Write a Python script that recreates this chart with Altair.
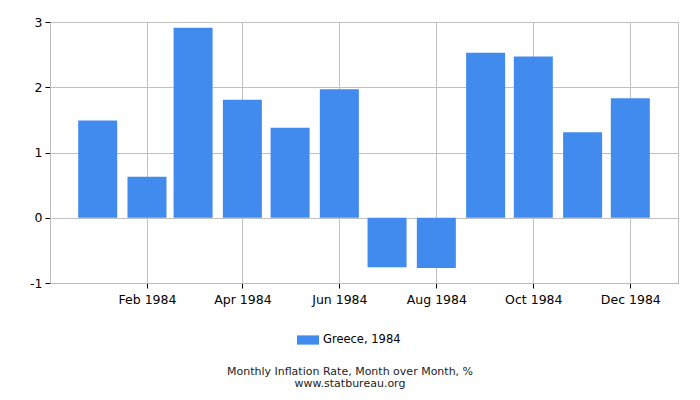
import altair as alt
import pandas as pd

months = ["1984-01-01", "1984-02-01", "1984-03-01", "1984-04-01", "1984-05-01", "1984-06-01",
          "1984-07-01", "1984-08-01", "1984-09-01", "1984-10-01", "1984-11-01", "1984-12-01"]
values = [1.49, 0.63, 2.91, 1.81, 1.38, 1.97, -0.76, -0.77, 2.53, 2.47, 1.31, 1.83]
series = "Greece, 1984"
tick_dates = ["1984-02-01", "1984-04-01", "1984-06-01", "1984-08-01", "1984-10-01", "1984-12-01"]
y_ticks = [-1, 0, 1, 2, 3]

df = pd.DataFrame({"date": months, "value": values, "series": [series] * len(months)})

FONT = "DejaVu Sans"

chart = alt.Chart(df).mark_bar(size=39).encode(
    x=alt.X("date:T",
            scale=alt.Scale(type="utc", padding=0,
                            domain=[{"year": 1983, "month": 12, "date": 2, "utc": True},
                                    {"year": 1984, "month": 12, "date": 31, "utc": True}]),
            axis=alt.Axis(title=None,
                          values=[{"year": int(d[:4]), "month": int(d[5:7]), "date": 1, "utc": True} for d in tick_dates],
                          labelExpr="utcFormat(datum.value, '%b %Y')", labelPadding=5)),
    y=alt.Y("value:Q", scale=alt.Scale(domain=[-1, 3], nice=False),
            axis=alt.Axis(title=None, values=y_ticks, labelExpr="'' + datum.value", labelPadding=3)),
    color=alt.Color("series:N", scale=alt.Scale(range=["#428bee"]),
                    legend=alt.Legend(title=None, orient="none", legendX=247, legendY=307,
                                      symbolType="M-1,-0.42H1V0.42H-1Z", symbolSize=484,
                                      symbolStrokeWidth=0, labelFontSize=11.5, labelFont=FONT,
                                      labelColor="#000000", labelOffset=4)),
).properties(
    width=628,
    height=261,
    title=alt.TitleParams(["Monthly Inflation Rate, Month over Month, %", "www.statbureau.org"],
                          orient="bottom", anchor="middle", frame="group", dx=-14,
                          fontSize=11, font=FONT,
                          fontWeight="normal", color="#222222", lineHeight=12, offset=20),
    autosize=alt.AutoSizeParams(type="none"),
    padding={"left": 42, "top": 14, "right": 14, "bottom": 110},
).configure_view(
    stroke="#bbbbbb"
).configure_axis(
    labelFont=FONT, labelFontSize=12.5, labelColor="#000000",
    gridColor="#c0c0c0", gridOpacity=1, domainColor="#bbbbbb",
    tickColor="#000000", tickSize=5, labelPadding=2,
)

chart.save("out.html", embed_options={"renderer": "svg", "actions": False})
